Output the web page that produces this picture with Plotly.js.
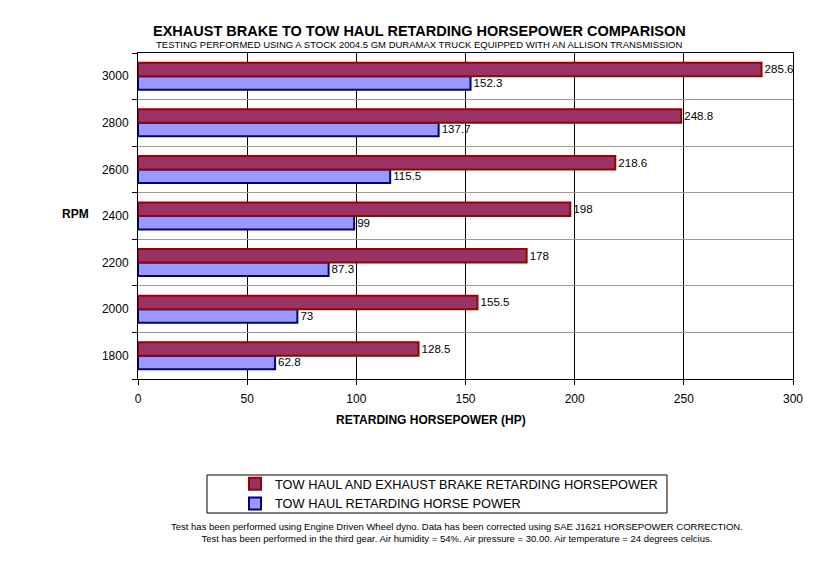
<!DOCTYPE html>
<html><head><meta charset="utf-8">
<script src="https://cdn.plot.ly/plotly-3.0.1.min.js"></script>
<style>body{margin:0;background:#fff}#chart{width:840px;height:572px}</style>
</head><body><div id="chart"></div>
<script>
const rpm = ['1800','2000','2200','2400','2600','2800','3000'];
const towHaulExhaust = [128.5, 155.5, 178, 198, 218.6, 248.8, 285.6];
const towHaul = [62.8, 73, 87.3, 99, 115.5, 137.7, 152.3];
const seriesNames = ['TOW HAUL AND EXHAUST BRAKE RETARDING HORSEPOWER', 'TOW HAUL RETARDING HORSE POWER'];
const xTicks = [0, 50, 100, 150, 200, 250, 300];

const F = 'Arial, "Liberation Sans", sans-serif';
const traces = [
  {type:'bar', orientation:'h', name:seriesNames[1], y:rpm, x:towHaul,
   marker:{color:'#9999ff', line:{color:'#000080', width:2}},
   text:towHaul.map(String), textposition:'outside', cliponaxis:false,
   textfont:{family:F, size:12, color:'#000'}},
  {type:'bar', orientation:'h', name:seriesNames[0], y:rpm, x:towHaulExhaust,
   marker:{color:'#993366', line:{color:'#990000', width:2}},
   text:towHaulExhaust.map(String), textposition:'outside', cliponaxis:false,
   textfont:{family:F, size:12, color:'#000'}}
];
const py = v => (379 - v) / 326;
const px = v => (v - 138) / 655;
const layout = {
  width:840, height:572, paper_bgcolor:'#fff', plot_bgcolor:'#fff',
  margin:{l:138, r:47, t:53, b:193},
  font:{family:F, size:12, color:'#000'},
  barmode:'group', bargap:0.42, bargroupgap:0,
  xaxis:{range:[0,300], tickvals:xTicks, ticktext:xTicks.map(String), showgrid:true, gridcolor:'#000', gridwidth:1,
    showline:true, linecolor:'#000', linewidth:1, mirror:true, ticks:'outside', ticklen:5, tickcolor:'#000',
    zeroline:false, tickfont:{family:F, size:12}, ticklabelstandoff:4},
  yaxis:{type:'category', categoryorder:'array', categoryarray:rpm, tickson:'boundaries', showgrid:true, gridcolor:'#999',
    showline:true, linecolor:'#000', linewidth:1, mirror:true, ticks:'outside', ticklen:5, tickcolor:'#000',
    tickfont:{family:F, size:12}, ticklabelstandoff:6},
  showlegend:true,
  legend:{traceorder:'reversed', x:px(235), xanchor:'left', y:py(469), yanchor:'top', bgcolor:'rgba(0,0,0,0)',
    borderwidth:0, font:{family:F, size:12.8}, tracegroupgap:0, itemwidth:30},
  shapes:[{type:'rect', xref:'paper', yref:'paper', x0:px(207), x1:px(667),
    y0:py(513), y1:py(475), line:{color:'#000', width:1}}],
  annotations:[
    {text:'<b>EXHAUST BRAKE TO TOW HAUL RETARDING HORSEPOWER COMPARISON</b>', xref:'paper', yref:'paper',
     x:px(419), y:py(31), xanchor:'center', yanchor:'middle', showarrow:false, font:{family:F, size:14.5}},
    {text:'TESTING PERFORMED USING A STOCK 2004.5 GM DURAMAX TRUCK EQUIPPED WITH AN ALLISON TRANSMISSION', xref:'paper', yref:'paper',
     x:px(419), y:py(45), xanchor:'center', yanchor:'middle', showarrow:false, font:{family:F, size:9.5}},
    {text:'<b>RPM</b>', xref:'paper', yref:'paper', x:px(75), y:py(214), xanchor:'center', yanchor:'middle', showarrow:false, font:{family:F, size:12}},
    {text:'<b>RETARDING HORSEPOWER (HP)</b>', xref:'paper', yref:'paper', x:px(431), y:py(420), xanchor:'center', yanchor:'middle', showarrow:false, font:{family:F, size:12}},
    {text:'Test has been performed using Engine Driven Wheel dyno. Data has been corrected using SAE J1621 HORSEPOWER CORRECTION.<br>Test has been performed in the third gear. Air humidity = 54%. Air pressure = 30.00. Air temperature = 24 degrees celcius.',
     xref:'paper', yref:'paper', x:px(457), y:py(532), xanchor:'center', yanchor:'middle', showarrow:false, align:'center', font:{family:F, size:9.5}}
  ]
};
Plotly.newPlot('chart', traces, layout, {displayModeBar:false});
</script></body></html>
